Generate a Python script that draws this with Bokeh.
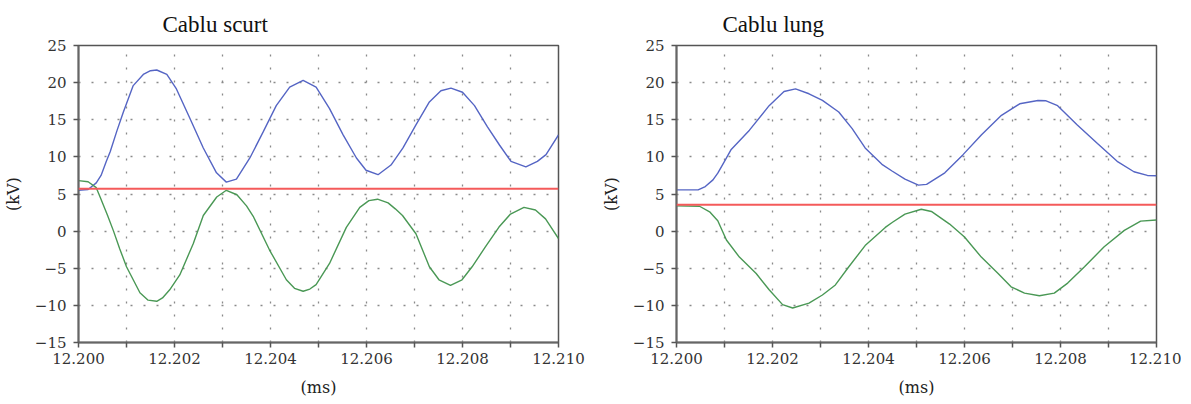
from bokeh.plotting import figure
from bokeh.layouts import row
from bokeh.models import FixedTicker, CustomJSTickFormatter, Range1d, Span
from bokeh.embed import file_html
from bokeh.resources import INLINE

# ---------------- data ----------------
TITLE_LEFT = "Cablu scurt"
TITLE_RIGHT = "Cablu lung"
X_LABEL = "(ms)"
Y_LABEL = "(kV)"

X_TICKS = [12.200, 12.202, 12.204, 12.206, 12.208, 12.210]
X_TICK_LABELS = ["12.200", "12.202", "12.204", "12.206", "12.208", "12.210"]
X_MINOR = [12.201, 12.203, 12.205, 12.207, 12.209]
Y_TICKS = [-15, -10, -5, 0, 5, 10, 15, 20, 25]
Y_TICK_LABELS = ["\u221215", "\u221210", "\u22125", "0", "5", "10", "15", "20", "25"]

# Cablu scurt
SHORT_BLUE_T = [12.20000, 12.20020, 12.20037, 12.20047, 12.20058, 12.20066, 12.20080, 12.200935,
                12.20114, 12.20135, 12.20150, 12.20163, 12.20184, 12.20204, 12.20232, 12.20260,
                12.202875, 12.20308, 12.20329, 12.20357, 12.20385, 12.20412, 12.20440, 12.20468,
                12.20495, 12.20523, 12.20551, 12.20579, 12.20599, 12.20624, 12.20651, 12.20676,
                12.20703, 12.20731, 12.20755, 12.20776, 12.20800, 12.20825, 12.20852, 12.20877,
                12.20901, 12.20932, 12.20956, 12.20974, 12.21000]
SHORT_BLUE_V = [5.5, 5.6, 6.5, 7.5, 9.4, 10.7, 13.5, 16.05,
                19.6, 21.1, 21.6, 21.7, 21.1, 19.15, 15.2, 11.2,
                7.85, 6.6, 7.0, 9.85, 13.4, 16.9, 19.4, 20.3,
                19.4, 16.5, 13.0, 9.85, 8.2, 7.6, 8.9, 11.2,
                14.3, 17.4, 18.9, 19.25, 18.7, 16.9, 14.05, 11.6,
                9.4, 8.65, 9.4, 10.3, 12.95]
SHORT_GREEN_T = [12.20000, 12.20020, 12.20037, 12.20045, 12.20060, 12.20073, 12.20086, 12.20100,
                 12.20128, 12.20145, 12.20163, 12.20175, 12.20190, 12.20211, 12.20239, 12.20260,
                 12.20288, 12.20308, 12.20330, 12.20350, 12.20364, 12.20398, 12.20433, 12.20450,
                 12.20468, 12.20482, 12.20495, 12.20523, 12.20558, 12.20586, 12.20605, 12.20623,
                 12.20645, 12.20660, 12.20675, 12.20703, 12.20731, 12.20751, 12.20775, 12.20799,
                 12.20820, 12.20848, 12.20876, 12.20900, 12.20928, 12.20952, 12.20973, 12.21000]
SHORT_GREEN_V = [6.8, 6.65, 5.85, 4.6, 2.2, 0.0, -2.4, -4.8,
                 -8.3, -9.3, -9.45, -9.0, -7.9, -5.9, -1.7, 2.1,
                 4.6, 5.5, 4.9, 3.4, 2.0, -2.55, -6.55, -7.7,
                 -8.1, -7.8, -7.2, -4.35, 0.5, 3.2, 4.1, 4.3,
                 3.8, 3.0, 2.1, -0.35, -4.8, -6.55, -7.3, -6.55,
                 -4.8, -2.1, 0.55, 2.3, 3.2, 2.85, 1.65, -1.0]
SHORT_RED = 5.7

# Cablu lung
LONG_BLUE_T = [12.20000, 12.20045, 12.20060, 12.20076, 12.20086, 12.20100, 12.20114, 12.20152,
               12.20193, 12.20224, 12.20248, 12.20276, 12.20304, 12.20338, 12.20366, 12.20393,
               12.20428, 12.20449, 12.20476, 12.20504, 12.20521, 12.20559, 12.20597, 12.20635,
               12.20677, 12.20715, 12.20753, 12.20770, 12.20794, 12.20835, 12.20877, 12.20918,
               12.20953, 12.20981, 12.21000]
LONG_BLUE_V = [5.55, 5.55, 6.0, 6.9, 7.8, 9.4, 11.0, 13.6,
               16.9, 18.8, 19.15, 18.5, 17.6, 16.05, 13.8, 11.2,
               9.0, 8.1, 7.0, 6.2, 6.3, 7.85, 10.3, 12.95,
               15.6, 17.15, 17.6, 17.55, 16.9, 14.3, 11.8, 9.4,
               8.0, 7.5, 7.45]
LONG_GREEN_T = [12.20000, 12.20048, 12.20069, 12.20086, 12.20104, 12.20131, 12.20166, 12.20193,
                12.20221, 12.20242, 12.20276, 12.20304, 12.20331, 12.20359, 12.20393, 12.20435,
                12.20450, 12.20476, 12.20510, 12.20531, 12.20569, 12.20600, 12.20635, 12.20670,
                12.20697, 12.20725, 12.20756, 12.20787, 12.20815, 12.20850, 12.20891, 12.20933,
                12.20967, 12.21000]
LONG_GREEN_V = [3.4, 3.35, 2.6, 1.4, -1.2, -3.5, -5.7, -7.9,
                -9.9, -10.35, -9.7, -8.6, -7.25, -4.8, -1.95, 0.5,
                1.2, 2.3, 2.95, 2.65, 0.95, -0.8, -3.5, -5.7,
                -7.5, -8.35, -8.7, -8.35, -7.0, -4.8, -2.1, 0.1,
                1.35, 1.5]
LONG_RED = 3.55

BLUE = "#5565c4"
GREEN = "#4a9855"
RED = "#f45a5a"
FONT = "Liberation Serif, Times New Roman, DejaVu Serif, serif"
FONT_AX = "DejaVu Serif"


def make(title, title_offset, bt, bv, gt, gv, red, width, mbl, mbr):
    p = figure(width=width, height=399,
               x_range=Range1d(X_TICKS[0], X_TICKS[-1]), y_range=Range1d(Y_TICKS[0], Y_TICKS[-1]),
               output_backend="svg", toolbar_location=None,
               min_border_left=mbl, min_border_right=mbr, min_border_top=43, min_border_bottom=55)
    p.title.text = title
    p.title.align = "left"
    p.title.offset = title_offset
    p.title.standoff = 18
    p.title.text_font = FONT
    p.title.text_font_size = "23px"
    p.title.text_font_style = "normal"
    p.title.text_color = "#111111"

    p.background_fill_color = "white"
    p.border_fill_color = "white"
    p.outline_line_color = "#555555"
    p.outline_line_width = 1.5

    p.xaxis.ticker = FixedTicker(ticks=X_TICKS, minor_ticks=X_MINOR)
    p.xaxis.formatter = CustomJSTickFormatter(args=dict(pos=X_TICKS, lab=X_TICK_LABELS), code="""
        let best = 0;
        for (let i = 0; i < pos.length; i++) {
            if (Math.abs(pos[i] - tick) < Math.abs(pos[best] - tick)) best = i;
        }
        return lab[best];
    """)
    p.yaxis.ticker = FixedTicker(ticks=Y_TICKS, minor_ticks=[])
    p.yaxis.formatter = CustomJSTickFormatter(args=dict(pos=Y_TICKS, lab=Y_TICK_LABELS), code="""
        let best = 0;
        for (let i = 0; i < pos.length; i++) {
            if (Math.abs(pos[i] - tick) < Math.abs(pos[best] - tick)) best = i;
        }
        return lab[best];
    """)
    for ax in (p.xaxis, p.yaxis):
        ax.axis_line_color = "#666666"
        ax.axis_line_width = 2
        ax.major_tick_line_color = "#555555"
        ax.major_tick_line_width = 1.5
        ax.major_tick_in = 0
        ax.major_tick_out = 5
        ax.minor_tick_line_color = "#555555"
        ax.minor_tick_line_width = 1.5
        ax.minor_tick_in = 0
        ax.minor_tick_out = 5
        ax.major_label_text_font = FONT_AX
        ax.major_label_text_font_size = "15px"
        ax.major_label_text_font_style = "normal"
        ax.major_label_text_color = "#333333"
        ax.axis_label_text_font = FONT_AX
        ax.axis_label_text_font_size = "16px"
        ax.axis_label_text_font_style = "normal"
        ax.axis_label_text_color = "#222222"
    p.xaxis.axis_label = X_LABEL
    p.yaxis.axis_label = Y_LABEL
    p.xaxis.major_label_standoff = 5
    p.yaxis.major_label_standoff = 7
    p.xaxis.axis_label_standoff = 11
    p.yaxis.axis_label_standoff = 9

    p.xgrid.grid_line_color = "#8a8a8a"
    p.xgrid.grid_line_dash = "2 11"
    p.xgrid.grid_line_width = 1.3
    p.xgrid.minor_grid_line_color = "#8a8a8a"
    p.xgrid.minor_grid_line_dash = "2 11"
    p.xgrid.minor_grid_line_width = 1.3
    p.ygrid.grid_line_color = "#8a8a8a"
    p.ygrid.grid_line_dash = "2 11"
    p.ygrid.grid_line_width = 1.3

    p.add_layout(Span(location=red, dimension="width", line_color=RED, line_width=2))
    p.line(bt, bv, line_color=BLUE, line_width=1.4)
    p.line(gt, gv, line_color=GREEN, line_width=1.4)
    return p


p1 = make(TITLE_LEFT, 84, SHORT_BLUE_T, SHORT_BLUE_V, SHORT_GREEN_T, SHORT_GREEN_V, SHORT_RED,
          598, 76, 40)
p2 = make(TITLE_RIGHT, 46, LONG_BLUE_T, LONG_BLUE_V, LONG_GREEN_T, LONG_GREEN_V, LONG_RED,
          583, 76, 25)
layout = row(p1, p2)

open("out.html", "w").write(file_html(layout, INLINE))
